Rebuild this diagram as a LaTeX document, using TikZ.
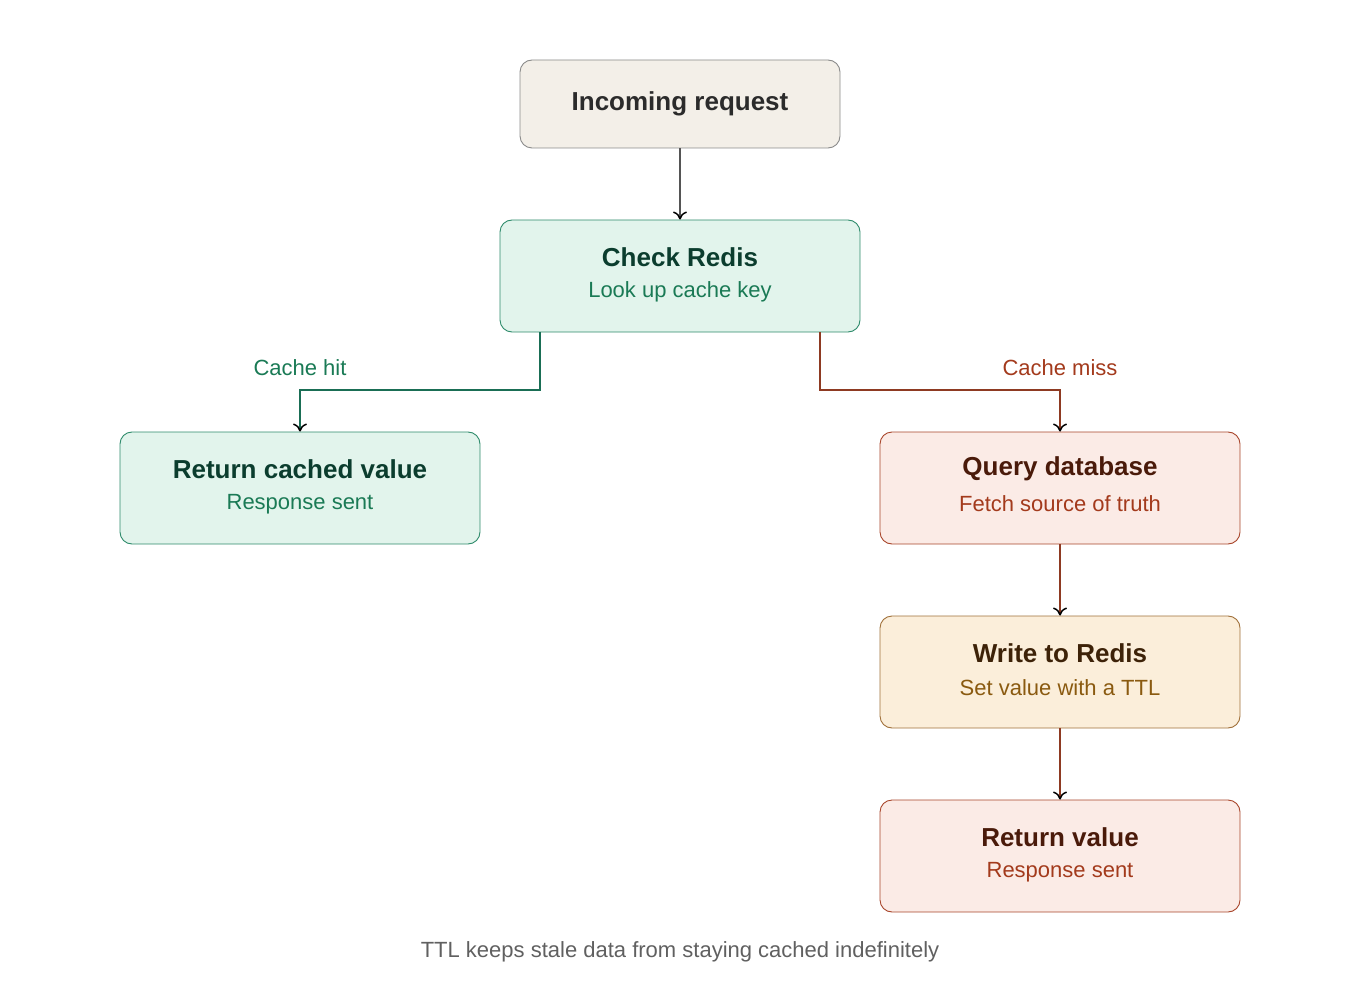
\documentclass[tikz,border=0pt]{standalone}
\usepackage{fontspec}
\setmainfont{Liberation Sans}
\usetikzlibrary{arrows.meta}
\definecolor{gF}{HTML}{E2F4EC}\definecolor{gB}{HTML}{2E8B6B}\definecolor{gT}{HTML}{0B3D2E}\definecolor{gS}{HTML}{1A7A55}\definecolor{gE}{HTML}{1A6E55}
\definecolor{rF}{HTML}{FBEBE6}\definecolor{rB}{HTML}{A8452A}\definecolor{rT}{HTML}{4A1A0A}\definecolor{rS}{HTML}{A33A1C}\definecolor{rE}{HTML}{8E3A22}
\definecolor{yF}{HTML}{FBEEDA}\definecolor{yB}{HTML}{A0703A}\definecolor{yT}{HTML}{3D2208}\definecolor{yS}{HTML}{8A5A10}
\definecolor{nF}{HTML}{F3EFE8}\definecolor{nB}{HTML}{8A8A8A}\definecolor{nT}{HTML}{2B2B2B}
\tikzset{
 box/.style={draw,rounded corners=12pt,line width=0.9pt,minimum width=360pt,minimum height=112pt,inner sep=0pt,align=center},
 ttl/.style={font=\fontsize{26}{30}\selectfont\bfseries},
 sub/.style={font=\fontsize{22}{26}\selectfont},
 arr/.style={line width=2pt,-{To[color=black,length=8pt,width=14pt,line width=1.5pt]}},
 lbl/.style={font=\fontsize{22}{26}\selectfont}
}
\begin{document}
\begin{tikzpicture}[x=1pt,y=-1pt]
\useasboundingbox (0,0) rectangle (1360,1000);
\node[box,fill=nF,draw=nB,minimum width=320pt,minimum height=88pt,text=nT,ttl] (in) at (680,104) {Incoming request};
\node[box,fill=gF,draw=gB] (chk) at (680,276) {};
\node[ttl,text=gT] at (680,257) {Check Redis};
\node[sub,text=gS] at (680,292) {Look up cache key};
\node[box,fill=gF,draw=gB] (hit) at (300,488) {};
\node[ttl,text=gT] at (300,469) {Return cached value};
\node[sub,text=gS] at (300,504) {Response sent};
\node[box,fill=rF,draw=rB] (db) at (1060,488) {};
\node[ttl,text=rT] at (1060,469) {Query database};
\node[sub,text=rS] at (1060,504) {Fetch source of truth};
\node[box,fill=yF,draw=yB] (wr) at (1060,672) {};
\node[ttl,text=yT] at (1060,653) {Write to Redis};
\node[sub,text=yS] at (1060,688) {Set value with a TTL};
\node[box,fill=rF,draw=rB] (rv) at (1060,856) {};
\node[ttl,text=rT] at (1060,837) {Return value};
\node[sub,text=rS] at (1060,872) {Response sent};
\draw[arr,draw=nT!80] (in) -- (chk);
\draw[arr,draw=gE] ([xshift=-140pt]chk.south) -- ++(0,58) -| (hit.north);
\draw[arr,draw=rE] ([xshift=140pt]chk.south) -- ++(0,58) -| (db.north);
\draw[arr,draw=rE] (db) -- (wr);
\draw[arr,draw=rE] (wr) -- (rv);
\node[lbl,text=gS] (lh) at (300,368) {Cache hit};
\node[lbl,text=rS] (lm) at (1060,368) {Cache miss};
\node[lbl,text=nT!75] (cap) at (680,952) {TTL keeps stale data from staying cached indefinitely};
\end{tikzpicture}
\end{document}
